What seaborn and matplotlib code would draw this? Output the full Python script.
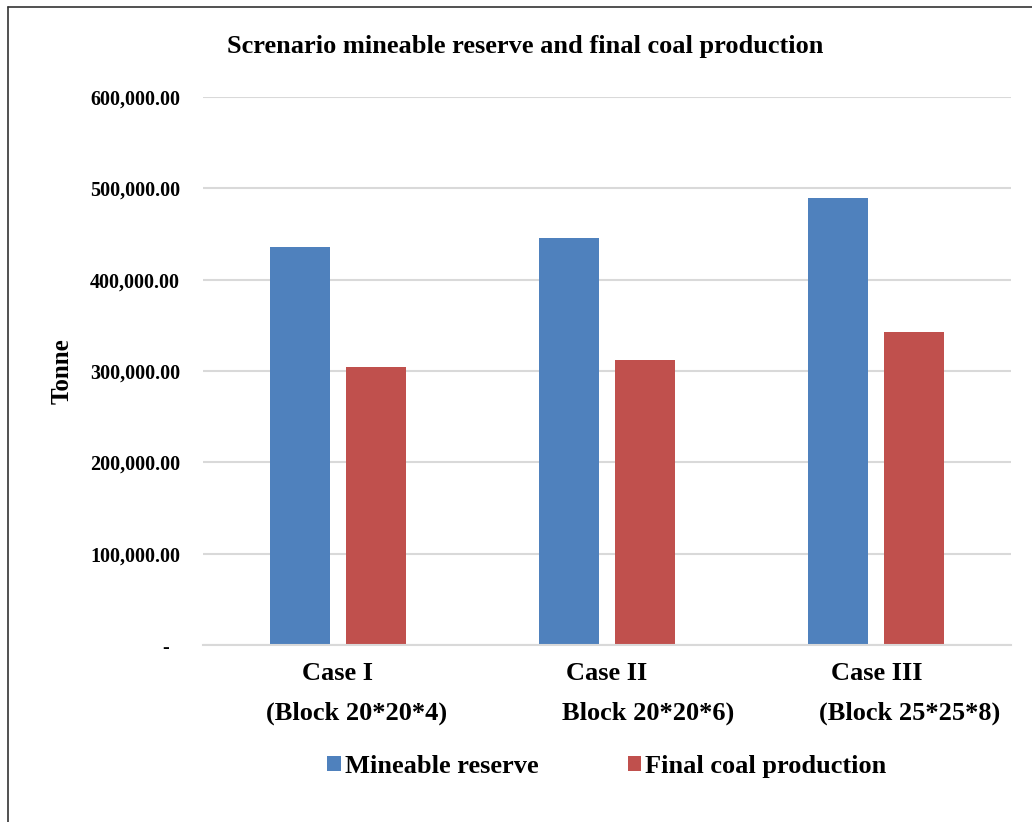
import matplotlib
matplotlib.use("Agg")
import matplotlib.pyplot as plt
import matplotlib.transforms as mtransforms
from matplotlib.patches import Patch
from matplotlib.lines import Line2D
import pandas as pd
import seaborn as sns

# Chart data
cases = ["Case I", "Case II", "Case III"]
block_labels = ["(Block 20*20*4)", "Block 20*20*6)", "(Block 25*25*8)"]
series_names = ["Mineable reserve", "Final coal production"]
mineable_reserve = [435800, 445600, 489000]
final_coal_production = [304400, 312000, 342500]
y_ticks = [0, 100000, 200000, 300000, 400000, 500000, 600000]

colors = ["#4F81BD", "#C0504D"]

df = pd.DataFrame({
    "case": cases * 2,
    "series": [series_names[0]] * 3 + [series_names[1]] * 3,
    "tonne": mineable_reserve + final_coal_production,
})

sns.set_theme(style="white")
plt.rcParams["font.family"] = ["Liberation Serif", "DejaVu Serif"]
plt.rcParams["font.weight"] = "bold"
plt.rcParams["text.color"] = "black"
plt.rcParams["xtick.color"] = "black"
plt.rcParams["ytick.color"] = "black"
plt.rcParams["axes.labelcolor"] = "black"

fig = plt.figure(figsize=(10.32, 8.22), dpi=100)
ax = fig.add_axes([203 / 1032, 0.2153, 808 / 1032, 0.6667])

sns.barplot(data=df, x="case", y="tonne", hue="series", order=cases,
            hue_order=series_names, palette=colors, width=0.565, gap=0.21,
            saturation=1, edgecolor="none", legend=False, ax=ax)

ax.set_ylim(0, 600000)
ax.set_xlim(-0.5, 2.5)
ax.set_yticks(y_ticks)
ax.set_yticklabels(["-  " if v == 0 else f"{v:,.2f}" for v in y_ticks],
                   fontsize=14.5, fontweight="bold")
ax.set_xticks(range(len(cases)))
ax.set_xticklabels(cases, fontsize=19, fontweight="bold")
ax.tick_params(axis="x", length=0, pad=12)
ax.tick_params(axis="y", length=0, pad=16.5)

ax.yaxis.grid(True, color="#d9d9d9", linewidth=1.5)
ax.set_axisbelow(True)
for side in ["top", "right", "left"]:
    ax.spines[side].set_visible(False)
ax.spines["bottom"].set_color("#d9d9d9")
ax.spines["bottom"].set_linewidth(1.5)

ax.set_xlabel("")
ax.set_ylabel("Tonne", fontsize=18, fontweight="bold", labelpad=12)

# second line of each category label
trans = mtransforms.blended_transform_factory(ax.transData, ax.transAxes)
offsets = [0.07, 0.152, 0.123]
for i, (lbl, dx) in enumerate(zip(block_labels, offsets)):
    ax.text(i + dx, -0.124, lbl, transform=trans, ha="center", va="center",
            fontsize=19, fontweight="bold")

fig.text(0.509, 0.944, "Screnario mineable reserve and final coal production",
         ha="center", va="center", fontsize=19, fontweight="bold")

handles = [Patch(facecolor=c, edgecolor="none") for c in colors]
fig.legend(handles, series_names, loc="center", bbox_to_anchor=(0.588, 0.068),
           ncol=2, frameon=False, handlelength=0.5,
           handleheight=0.5, handletextpad=0.15, columnspacing=3.4,
           prop={"weight": "bold", "size": 19})

# outer frame of the chart
fig.add_artist(Line2D([7.5 / 1032, 7.5 / 1032], [0, 1 - 7.5 / 822],
                      transform=fig.transFigure, color="#333333", linewidth=1.2))
fig.add_artist(Line2D([7.5 / 1032, 1], [1 - 7.5 / 822, 1 - 7.5 / 822],
                      transform=fig.transFigure, color="#333333", linewidth=1.2))

fig.savefig("out.png", dpi=100, facecolor="white")
